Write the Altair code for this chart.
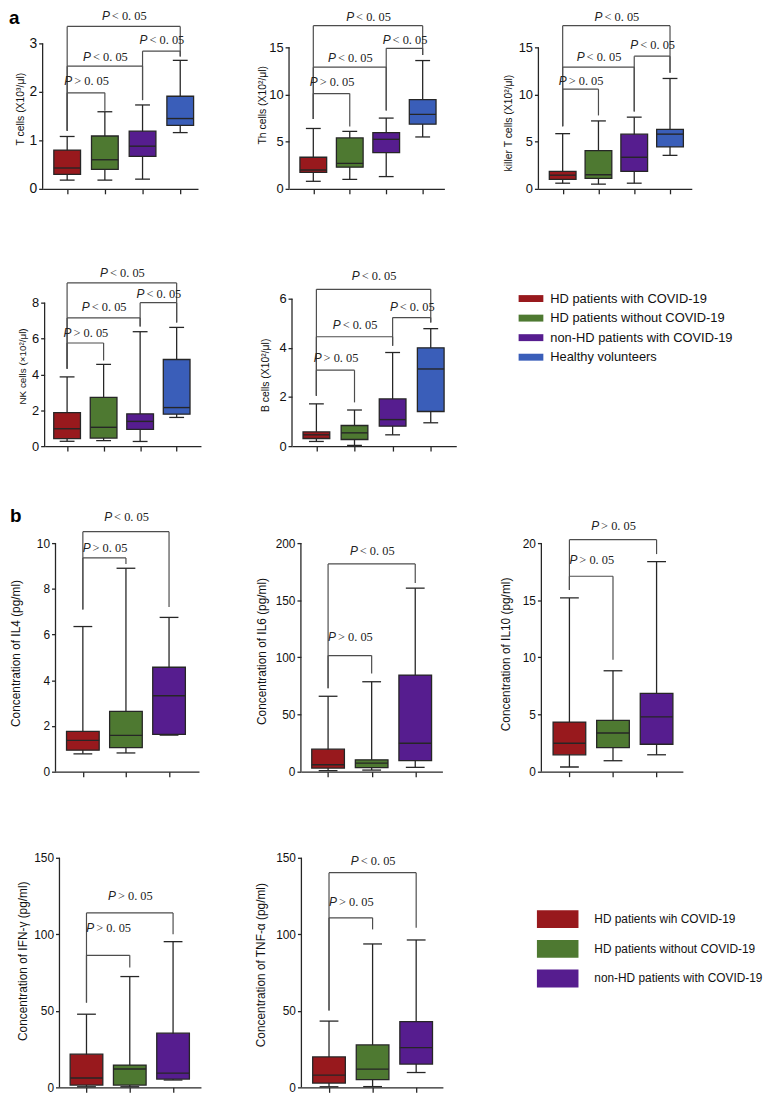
import altair as alt
import pandas as pd

# ---------------- data ----------------
GROUPS_A = ["HD patients with COVID-19", "HD patients without COVID-19",
            "non-HD patients with COVID-19", "Healthy volunteers"]
GROUPS_B = ["HD patients wih COVID-19", "HD patients without COVID-19",
            "non-HD patients with  COVID-19"]
COLORS = ["#98191d", "#4e7931", "#561d8f", "#3a5eb9"]

# box summaries per group: (min, q1, median, q3, max)
# brackets: (group i, group j, bar level, leg end i, leg end j, comparison)
T_TICKS = [0, 1, 2, 3]
T_BOXES = [(0.18, 0.30, 0.43, 0.80, 1.08), (0.18, 0.40, 0.60, 1.09, 1.59),
           (0.20, 0.67, 0.88, 1.19, 1.73), (1.16, 1.31, 1.45, 1.91, 2.65)]
T_BRACKETS = [(1, 2, 1.98, 1.20, 1.61, ">"), (1, 3, 2.53, 1.20, 1.83, "<"),
              (3, 4, 2.84, 1.83, 2.73, "<"), (1, 4, 3.35, 1.20, 2.73, "<")]

TH_TICKS = [0, 5, 10, 15]
TH_BOXES = [(0.8, 1.75, 2.0, 3.35, 6.4), (1.0, 2.3, 2.7, 5.4, 6.1),
            (1.3, 3.85, 5.25, 5.95, 7.5), (5.5, 6.85, 7.9, 9.45, 13.6)]
TH_BRACKETS = [(1, 2, 10.1, 7.4, 6.6, ">"), (1, 3, 12.9, 7.4, 8.3, "<"),
               (3, 4, 14.9, 8.3, 14.2, "<"), (1, 4, 17.3, 7.4, 14.2, "<")]

KT_TICKS = [0, 5, 10, 15]
KT_BOXES = [(0.6, 1.0, 1.45, 1.85, 5.85), (0.5, 1.1, 1.5, 4.05, 7.2),
            (0.6, 1.85, 3.35, 5.8, 7.6), (3.55, 4.45, 5.8, 6.3, 11.7)]
KT_BRACKETS = [(1, 2, 10.57, 6.63, 7.78, ">"), (1, 3, 12.9, 6.63, 8.2, "<"),
               (3, 4, 14.06, 8.2, 12.3, "<"), (1, 4, 17.3, 6.63, 12.3, "<")]

NK_TICKS = [0, 2, 4, 6, 8]
NK_BOXES = [(0.27, 0.42, 0.97, 1.87, 3.86), (0.31, 0.45, 1.05, 2.72, 4.56),
            (0.26, 0.94, 1.38, 1.80, 6.38), (1.60, 1.78, 2.15, 4.83, 6.62)]
NK_BRACKETS = [(1, 2, 5.75, 4.32, 4.78, ">"), (1, 3, 7.15, 4.32, 6.67, "<"),
               (3, 4, 8.0, 6.67, 6.89, "<"), (1, 4, 9.1, 4.32, 6.89, "<")]

B_TICKS = [0, 2, 4, 6]
B_BOXES = [(0.19, 0.31, 0.46, 0.58, 1.72), (0.03, 0.27, 0.54, 0.84, 1.47),
           (0.46, 0.81, 1.08, 1.92, 3.81), (0.95, 1.41, 3.14, 4.0, 4.78)]
B_BRACKETS = [(1, 2, 3.09, 2.05, 1.78, ">"), (1, 3, 4.45, 2.05, 4.08, "<"),
              (3, 4, 5.23, 4.08, 5.03, "<"), (1, 4, 6.38, 2.05, 5.03, "<")]

IL4_TICKS = [0, 2, 4, 6, 8, 10]
IL4_BOXES = [(0.78, 0.94, 1.37, 1.76, 6.35), (0.82, 1.05, 1.59, 2.64, 8.9),
             (1.60, 1.63, 3.32, 4.57, 6.75)]
IL4_BRACKETS = [(1, 2, 9.35, 7.1, 9.09, ">"), (1, 3, 10.5, 7.1, 7.2, "<")]

IL6_TICKS = [0, 50, 100, 150, 200]
IL6_BOXES = [(0.9, 3.2, 6.1, 19.7, 66.0), (1.4, 3.5, 7.5, 10.4, 78.7),
             (3.8, 9.6, 24.9, 84.5, 160.6)]
IL6_BRACKETS = [(1, 2, 101.6, 73.0, 86.0, ">"), (1, 3, 181.8, 73.0, 165.0, "<")]

IL10_TICKS = [0, 5, 10, 15, 20]
IL10_BOXES = [(0.41, 1.48, 2.49, 4.34, 15.2), (0.96, 2.11, 3.39, 4.49, 8.83),
              (1.48, 2.40, 4.80, 6.86, 18.38)]
IL10_BRACKETS = [(1, 2, 17.1, 15.9, 9.8, ">"), (1, 3, 20.3, 15.9, 19.04, ">")]

IFN_TICKS = [0, 50, 100, 150]
IFN_BOXES = [(0.4, 1.5, 6.1, 21.7, 47.8), (0.4, 1.5, 12.0, 14.6, 72.4),
             (4.8, 5.4, 9.3, 35.4, 95.2)]
IFN_BRACKETS = [(1, 2, 86.3, 55.4, 78.3, ">"), (1, 3, 114.0, 55.4, 100.0, ">")]

TNF_TICKS = [0, 50, 100, 150]
TNF_BOXES = [(0.4, 2.8, 8.0, 19.9, 43.3), (0.5, 5.0, 11.9, 27.7, 93.7),
             (9.7, 15.2, 26.0, 42.9, 96.3)]
TNF_BRACKETS = [(1, 2, 110.8, 50.2, 103.2, ">"), (1, 3, 140.3, 50.2, 104.3, "<")]

# ---------------- styling ----------------
SANS = "Liberation Sans"
SERIF = "Liberation Serif"
INK = "#262626"
BRK = "#4d4d4d"


def box_panel(boxes, brackets, ticks, title, width, height, tick_top, xdom,
              title_off, title_y, gaps, box_w, cap_w, label_size, title_size,
              letter=None, letter_x=0, letter_y=0):
    n = len(boxes)
    pos = list(range(1, n + 1))
    bdf = pd.DataFrame({
        "pos": pos,
        "lo": [b[0] for b in boxes], "q1": [b[1] for b in boxes],
        "med": [b[2] for b in boxes], "q3": [b[3] for b in boxes],
        "hi": [b[4] for b in boxes], "col": COLORS[:n],
    })
    ymax = ticks[-1] * height / (height - tick_top)
    ysc = alt.Scale(domain=[0, ymax], nice=False, zero=False)
    xsc = alt.Scale(domain=list(xdom), nice=False, zero=False)

    xax = alt.Axis(values=pos, labels=False, title=None, grid=False, tickSize=5,
                   tickWidth=1.3, domainWidth=1.3, tickColor=INK, domainColor=INK)
    yax = alt.Axis(values=ticks, title=title, grid=False, domain=False, tickSize=4,
                   tickWidth=1.3, tickColor=INK, labelPadding=2, labelFont=SANS,
                   labelFontSize=label_size, labelColor="#111", titleFont=SANS,
                   titleFontSize=title_size, titleFontWeight="normal",
                   titleColor="#111", titlePadding=2, titleX=-title_off,
                   titleY=title_y)

    def X(f):
        return alt.X(f"{f}:Q", scale=xsc, axis=xax)

    def Y(f):
        return alt.Y(f"{f}:Q", scale=ysc, axis=yax)

    base = alt.Chart(bdf)
    whisk = base.mark_rule(color=INK, strokeWidth=1.3).encode(
        x=X("pos"), y=Y("lo"), y2="hi")
    yline = alt.Chart(pd.DataFrame({"lo": [ticks[0]], "hi": [ticks[-1]]})).mark_rule(
        color=INK, strokeWidth=1.3).encode(x=alt.value(0), y=Y("lo"), y2="hi")
    cap_lo = base.mark_tick(orient="horizontal", size=cap_w, thickness=1.3,
                            color=INK, opacity=1).encode(x=X("pos"), y=Y("lo"))
    cap_hi = base.mark_tick(orient="horizontal", size=cap_w, thickness=1.3,
                            color=INK, opacity=1).encode(x=X("pos"), y=Y("hi"))
    box = base.mark_bar(size=box_w, stroke=INK, strokeWidth=1.3, opacity=1).encode(
        x=X("pos"), y=Y("q1"), y2="q3", color=alt.Color("col:N", scale=None))
    med = base.mark_tick(orient="horizontal", size=box_w, thickness=1.4,
                         color=INK, opacity=1).encode(x=X("pos"), y=Y("med"))

    rdf = pd.DataFrame({
        "i": [b[0] for b in brackets], "j": [b[1] for b in brackets],
        "lvl": [b[2] for b in brackets], "ei": [b[3] for b in brackets],
        "ej": [b[4] for b in brackets], "sign": [b[5] for b in brackets],
    })
    rdf["mid"] = (rdf["i"] + rdf["j"]) / 2
    rdf["ly"] = rdf["lvl"] + pd.Series(gaps) * ymax / height
    rdf["rest"] = rdf["sign"] + " 0. 05"
    rdf["p"] = "P"
    legs = pd.DataFrame({
        "x": list(rdf["i"]) + list(rdf["j"]),
        "top": list(rdf["lvl"]) * 2,
        "end": list(rdf["ei"]) + list(rdf["ej"]),
    })
    hbar = alt.Chart(rdf).mark_rule(color=BRK, strokeWidth=1.2).encode(
        x=X("i"), x2="j", y=Y("lvl"))
    vleg = alt.Chart(legs).mark_rule(color=BRK, strokeWidth=1.2).encode(
        x=X("x"), y=Y("top"), y2="end")
    ptxt = alt.Chart(rdf).mark_text(font=SANS, fontStyle="italic", fontSize=12,
                                    align="right", baseline="middle", dx=-14,
                                    color="#222").encode(
        x=X("mid"), y=Y("ly"), text="p:N")
    rtxt = alt.Chart(rdf).mark_text(font=SERIF, fontSize=12.5, align="left",
                                    baseline="middle", dx=-12,
                                    color="#222").encode(
        x=X("mid"), y=Y("ly"), text="rest:N")
    layers = [whisk, yline, cap_lo, cap_hi, box, med, hbar, vleg, ptxt, rtxt]
    if letter:
        lt = alt.Chart(pd.DataFrame({"t": [letter]})).mark_text(
            font=SANS, fontSize=19, fontWeight="bold", align="left",
            baseline="alphabetic", color="#000").encode(
            x=alt.value(letter_x), y=alt.value(letter_y), text="t:N")
        layers.append(lt)
    return alt.layer(*layers).properties(width=width, height=height)


def legend_panel(labels, width, height, y0, step, sx, sw, sh, tx, font_size):
    n = len(labels)
    df = pd.DataFrame({"lab": labels, "col": COLORS[:n]})
    p = 1 - sh / step
    ysc = alt.Scale(domain=labels, range=[y0, y0 + step * n],
                    paddingInner=p, paddingOuter=p / 2)
    sw_ = alt.Chart(df).mark_rect().encode(
        y=alt.Y("lab:N", scale=ysc, axis=None),
        x=alt.value(sx), x2=alt.value(sx + sw),
        color=alt.Color("col:N", scale=None))
    tx_ = alt.Chart(df).mark_text(align="left", baseline="middle", font=SANS,
                                  fontSize=font_size, color="#111").encode(
        y=alt.Y("lab:N", scale=ysc, axis=None), x=alt.value(tx), text="lab:N")
    return alt.layer(sw_, tx_).properties(width=width, height=height)


def spacer(width):
    # empty, invisible cell that sets the left margin of a row
    return alt.Chart(pd.DataFrame({"z": [0]})).mark_rule(opacity=0).encode(
        x=alt.value(0), y=alt.value(0), y2=alt.value(1)
    ).properties(width=width, height=1)


T = box_panel(T_BOXES, T_BRACKETS, T_TICKS, "T cells (X10³/μl)", 157, 181, 34,
              (0.48, 4.34), 17.5, 100, [12, 9, 11, 10], 27, 15, 14, 10.5,
              letter="a", letter_x=-34, letter_y=14)
TH = box_panel(TH_BOXES, TH_BRACKETS, TH_TICKS, "Th cells (X10²/μl)", 157, 181, 38,
               (0.47, 4.46), 21.5, 96, [12, 9, 8, 9], 27, 15, 13, 10.5)
KT = box_panel(KT_BOXES, KT_BRACKETS, KT_TICKS, "killer T cells (X10²/μl)", 155, 181,
               38, (0.46, 4.47), 25, 114, [8, 10, 11, 9], 27, 15, 13, 10.5)
NK = box_panel(NK_BOXES, NK_BRACKETS, NK_TICKS, "NK cells  (×10²/μl)", 158, 185, 40,
               (0.52, 4.53), 17, 104, [10, 11, 9, 10], 27, 15, 13, 10)
BC = box_panel(B_BOXES, B_BRACKETS, B_TICKS, "B cells (X10²/μl)", 166, 185, 36,
               (0.49, 4.54), 21.5, 113, [12, 12, 11, 13], 27, 15, 13, 10.5)
LEG_A = legend_panel(GROUPS_A, 240, 185, 26, 19.75, 3, 25, 7, 35, 13)

IL4 = box_panel(IL4_BOXES, IL4_BRACKETS, IL4_TICKS, "Concentration of IL4 (pg/ml)",
                145, 267, 36, (0.48, 3.58), 33.5, 147, [10, 15], 33, 19, 12, 12,
                letter="b", letter_x=-46, letter_y=15)
IL6 = box_panel(IL6_BOXES, IL6_BRACKETS, IL6_TICKS, "Concentration of IL6 (pg/ml)",
                143, 267, 36, (0.49, 3.51), 32.5, 145, [19, 13], 33, 19, 12, 12)
IL10 = box_panel(IL10_BOXES, IL10_BRACKETS, IL10_TICKS, "Concentration of IL10 (pg/ml)",
                 143, 267, 36, (0.47, 3.49), 29.5, 148, [16, 14], 33, 19, 12, 12)
IFN = box_panel(IFN_BOXES, IFN_BRACKETS, IFN_TICKS, "Concentration of IFN-γ (pg/ml)",
                143, 242, 10, (0.49, 3.53), 30, 114, [28, 17], 33, 19, 12, 12)
TNF = box_panel(TNF_BOXES, TNF_BRACKETS, TNF_TICKS, "Concentration of TNF-α (pg/ml)",
                143, 242, 10, (0.48, 3.5), 34.5, 118, [16, 12], 33, 19, 12, 12)
LEG_B = legend_panel(GROUPS_B, 265, 242, 57, 30, 41.5, 42, 18, 99.5, 12)

row_a1 = alt.hconcat(spacer(1), alt.hconcat(T, TH, KT, spacing=60), spacing=0)
row_a2 = alt.hconcat(spacer(10), alt.hconcat(NK, BC, LEG_A, spacing=60), spacing=0)
row_b1 = alt.hconcat(spacer(1), alt.hconcat(IL4, IL6, IL10, spacing=57), spacing=0)
row_b2 = alt.hconcat(spacer(9), alt.hconcat(IFN, TNF, LEG_B, spacing=53.5), spacing=0)

chart = alt.concat(
    alt.concat(row_a1, row_a2, columns=1, spacing=68, align="none"),
    alt.concat(row_b1, row_b2, columns=1, spacing=71, align="none"),
    columns=1, spacing=55, align="none",
).properties(
    padding={"top": -5, "left": 0, "right": 0, "bottom": 0}
).configure(font=SANS).configure_view(stroke=None)

chart.save("out.html", embed_options={"renderer": "svg", "actions": False})
